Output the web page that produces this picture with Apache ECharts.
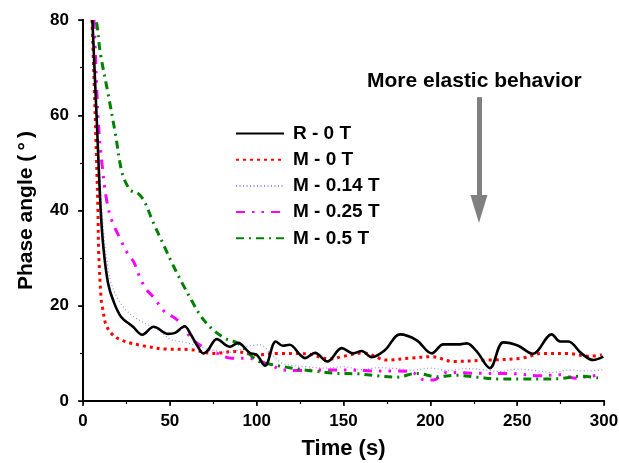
<!DOCTYPE html>
<html>
<head>
<meta charset="utf-8">
<script src="https://cdn.jsdelivr.net/npm/echarts@6/dist/echarts.min.js"></script>
<style>
  html, body { margin: 0; padding: 0; background: #fff; }
  #chart { width: 619px; height: 463px; }
</style>
</head>
<body>
<div id="chart"></div>
<script>
// values (time in s, phase angle in degrees)
var seriesNames = ["R - 0 T", "M - 0 T", "M - 0.14 T", "M - 0.25 T", "M - 0.5 T"];

var rTime  = [5.4, 7.8, 10.2, 11.9, 14.4, 17.3, 21.9, 28.8, 34.1, 40.7, 49, 53, 58.5, 62, 66, 69.3, 72, 77, 84.6, 89.3, 96, 100, 104.8, 111, 115, 119, 125, 127.8, 133.6, 140.7, 149, 155.6, 160.5, 166.2, 173.9, 182.5, 192, 200.8, 207.5, 217, 221, 226.7, 234.3, 242, 250.6, 259, 269.9, 274.7, 279.5, 287, 293.8, 299.6];
var rPhase = [80, 60, 40, 31.7, 24.8, 21.2, 17.7, 15.6, 13.9, 15.6, 14.1, 14.3, 15.7, 14, 11.5, 10.0, 10.7, 13.0, 11.4, 12.2, 10.1, 9.7, 7.4, 12.5, 11.6, 11.8, 9.7, 9.0, 10.1, 8.3, 11.1, 10.0, 10.5, 9.2, 10.7, 14.0, 12.8, 10.0, 11.9, 11.9, 12.1, 10.4, 6.9, 12.3, 11.6, 9.9, 14.0, 12.5, 12.5, 10.0, 8.6, 9.3];

var m0Time  = [5.2, 7, 8.6, 9, 10.5, 11.5, 13, 16.3, 22, 34.5, 48, 61.6, 75, 87.5, 100, 113.4, 128.8, 142.2, 149, 161.4, 174.9, 188.3, 200.8, 213.2, 233.4, 252.6, 265, 278.5, 291.9, 298.7];
var m0Phase = [80, 60, 40, 31.7, 21.2, 19.1, 16.3, 14.2, 12.8, 11.6, 10.9, 10.8, 10.0, 10.4, 9.7, 10.0, 9.9, 8.8, 9.3, 10.1, 8.6, 9.0, 9.3, 8.3, 8.6, 9.0, 10.0, 10.0, 9.4, 9.7];

var m014Time  = [5.8, 8, 10, 12, 14, 16, 20, 25, 30, 37.4, 45, 50, 60, 73, 84.6, 95, 102, 108, 115, 128.8, 140, 150, 160, 170, 180, 190, 200, 210, 220, 230, 240, 250, 260, 270, 280, 290, 300];
var m014Phase = [80, 60, 45, 35, 29, 25, 21.5, 19, 17.5, 16, 14.5, 13, 12.2, 10.8, 10.2, 11.5, 11.8, 10, 7.9, 7.2, 6.9, 7.2, 6.6, 7.0, 6.8, 6.5, 6.9, 6.4, 6.8, 6.6, 6.2, 6.7, 6.4, 6.0, 6.5, 6.3, 6.6];

var m025Time  = [6.3, 7.1, 7.9, 9, 10.9, 13.8, 16.9, 21.5, 25.5, 29.2, 32.6, 36.5, 40.9, 46.6, 54.3, 64.3, 78, 85.6, 94.3, 107.7, 115.3, 123, 135, 146, 153.7, 167.2, 175.8, 188.3, 196.9, 201.7, 209.4, 230.5, 241, 249.7, 262, 274.7, 283.3, 291.9, 298.7];
var m025Phase = [80, 73.3, 65.7, 57.6, 49.9, 41.8, 37.6, 34, 31.1, 29.2, 26.1, 23.4, 21.7, 18.9, 17, 12.5, 9.9, 9.0, 9.0, 7.6, 6.5, 6.4, 6.5, 6.5, 6.5, 6.3, 6.3, 6.2, 4.4, 4.4, 6.0, 5.8, 5.8, 5.7, 5.3, 5.5, 4.8, 5.2, 5.5];

var m05Time  = [7.6, 8.1, 10, 14.4, 18.6, 22.6, 26.9, 28.5, 32, 35.5, 40.3, 46, 50.8, 56.6, 62.4, 68.1, 73.9, 81.6, 89.3, 100, 109.6, 124, 134.6, 146, 158.5, 169.1, 180.6, 192.1, 203.7, 215.2, 226.7, 241, 252.6, 264, 274.7, 286.2, 297.7];
var m05Phase = [79.5, 78.9, 73, 64.6, 56.2, 47.8, 44.3, 44, 43.5, 41.8, 37.6, 33.1, 29.3, 25.1, 21.2, 17.7, 15.3, 13.2, 12.1, 8.6, 7.6, 6.7, 6.2, 5.8, 5.7, 5.3, 5.0, 5.8, 5.1, 5.4, 5.0, 4.6, 4.6, 4.6, 4.7, 5.2, 4.8];

// annotation arrow (data coords)
var arrowTime = 228;
var arrowFrom = 63.8;
var arrowTo = 40.3;

function pairs(xs, ys) {
    return xs.map(function (x, i) { return [x, ys[i]]; });
}

var font = "'Liberation Sans', Arial, sans-serif";
var chart = echarts.init(document.getElementById("chart"), null, { renderer: "canvas" });

function lineSeries(name, xs, ys, color, width, dash, extra) {
    var s = {
        name: name,
        type: "line",
        data: pairs(xs, ys),
        symbol: "none",
        showSymbol: false,
        smooth: 0.35,
        clip: true,
        lineStyle: { color: color, width: width, type: dash, cap: "butt" },
        itemStyle: { color: color },
        z: 3
    };
    return Object.assign(s, extra || {});
}

var option = {
    animation: false,
    backgroundColor: "#fff",
    grid: { left: 83, right: 15, top: 20, bottom: 62, outerBoundsMode: "none", containLabel: false },
    legend: {
        orient: "vertical",
        left: 235,
        top: 124,
        padding: 0,
        itemWidth: 48,
        itemHeight: 16,
        itemGap: 7.2,
        itemStyle: { opacity: 0 },
        textStyle: { fontFamily: font, fontWeight: "bold", fontSize: 19, color: "#000", padding: [0, 0, 0, 4] },
        data: seriesNames
    },
    xAxis: [{
        type: "value", min: 0, max: 300, interval: 50,
        name: "Time (s)", nameLocation: "middle", nameGap: 37,
        nameTextStyle: { fontFamily: font, fontWeight: "bold", fontSize: 22, color: "#000" },
        axisLine: { lineStyle: { color: "#000", width: 2 } },
        axisTick: { inside: false, length: 5, lineStyle: { width: 1.5, color: "#000" } },
        minorTick: { show: true, splitNumber: 2, length: 3, lineStyle: { color: "#000", width: 1.2 } },
        axisLabel: { fontFamily: font, fontWeight: "bold", fontSize: 17, color: "#000", margin: 12 },
        splitLine: { show: false }
    }, {
        type: "value", min: 0, max: 300, interval: 50, position: "top",
        axisLine: { lineStyle: { color: "#000", width: 2 } },
        axisTick: { inside: true, length: 4, lineStyle: { width: 1, color: "#000" } },
        minorTick: { show: true, splitNumber: 2, length: 2, lineStyle: { color: "#000", width: 1 } },
        axisLabel: { show: false },
        splitLine: { show: false }
    }],
    yAxis: [{
        type: "value", min: 0, max: 80, interval: 20,
        name: "Phase angle (\u2009°\u2009)", nameLocation: "middle", nameGap: 46,
        nameTextStyle: { fontFamily: font, fontWeight: "bold", fontSize: 21, color: "#000" },
        axisLine: { show: true, lineStyle: { color: "#000", width: 2 } },
        axisTick: { show: true, inside: false, length: 5, lineStyle: { width: 1.5, color: "#000" } },
        minorTick: { show: true, splitNumber: 2, length: 3, lineStyle: { color: "#000", width: 1.2 } },
        axisLabel: { fontFamily: font, fontWeight: "bold", fontSize: 17, color: "#000", margin: 14 },
        splitLine: { show: false }
    }, {
        type: "value", min: 0, max: 80, interval: 20, position: "right",
        axisLine: { show: true, lineStyle: { color: "#000", width: 2 } },
        axisTick: { show: true, inside: true, length: 4, lineStyle: { width: 1, color: "#000" } },
        minorTick: { show: true, splitNumber: 2, length: 2, lineStyle: { color: "#000", width: 1 } },
        axisLabel: { show: false },
        splitLine: { show: false }
    }],
    graphic: [{
        type: "text",
        left: 367,
        top: 71,
        style: { text: "More elastic behavior", font: "bold 21px " + font, fill: "#000" }
    }],
    series: [
        lineSeries(seriesNames[0], rTime, rPhase, "#000000", 2.6, "solid", { z: 5 }),
        lineSeries(seriesNames[1], m0Time, m0Phase, "#ff0000", 3, [3, 4]),
        lineSeries(seriesNames[2], m014Time, m014Phase, "#8c8cff", 1.2, [1, 2.5]),
        lineSeries(seriesNames[3], m025Time, m025Phase, "#ff00ff", 3, [9, 7, 2.5, 7, 2.5, 7]),
        lineSeries(seriesNames[4], m05Time, m05Phase, "#008000", 3, [8, 5, 2, 5], {
            markLine: {
                silent: true,
                symbol: ["none", "triangle"],
                symbolSize: [17, 28],
                label: { show: false },
                lineStyle: { color: "#808080", width: 5, type: "solid" },
                data: [[{ coord: [arrowTime, arrowFrom] }, { coord: [arrowTime, arrowTo] }]]
            }
        })
    ]
};

chart.setOption(option);
</script>
</body>
</html>
